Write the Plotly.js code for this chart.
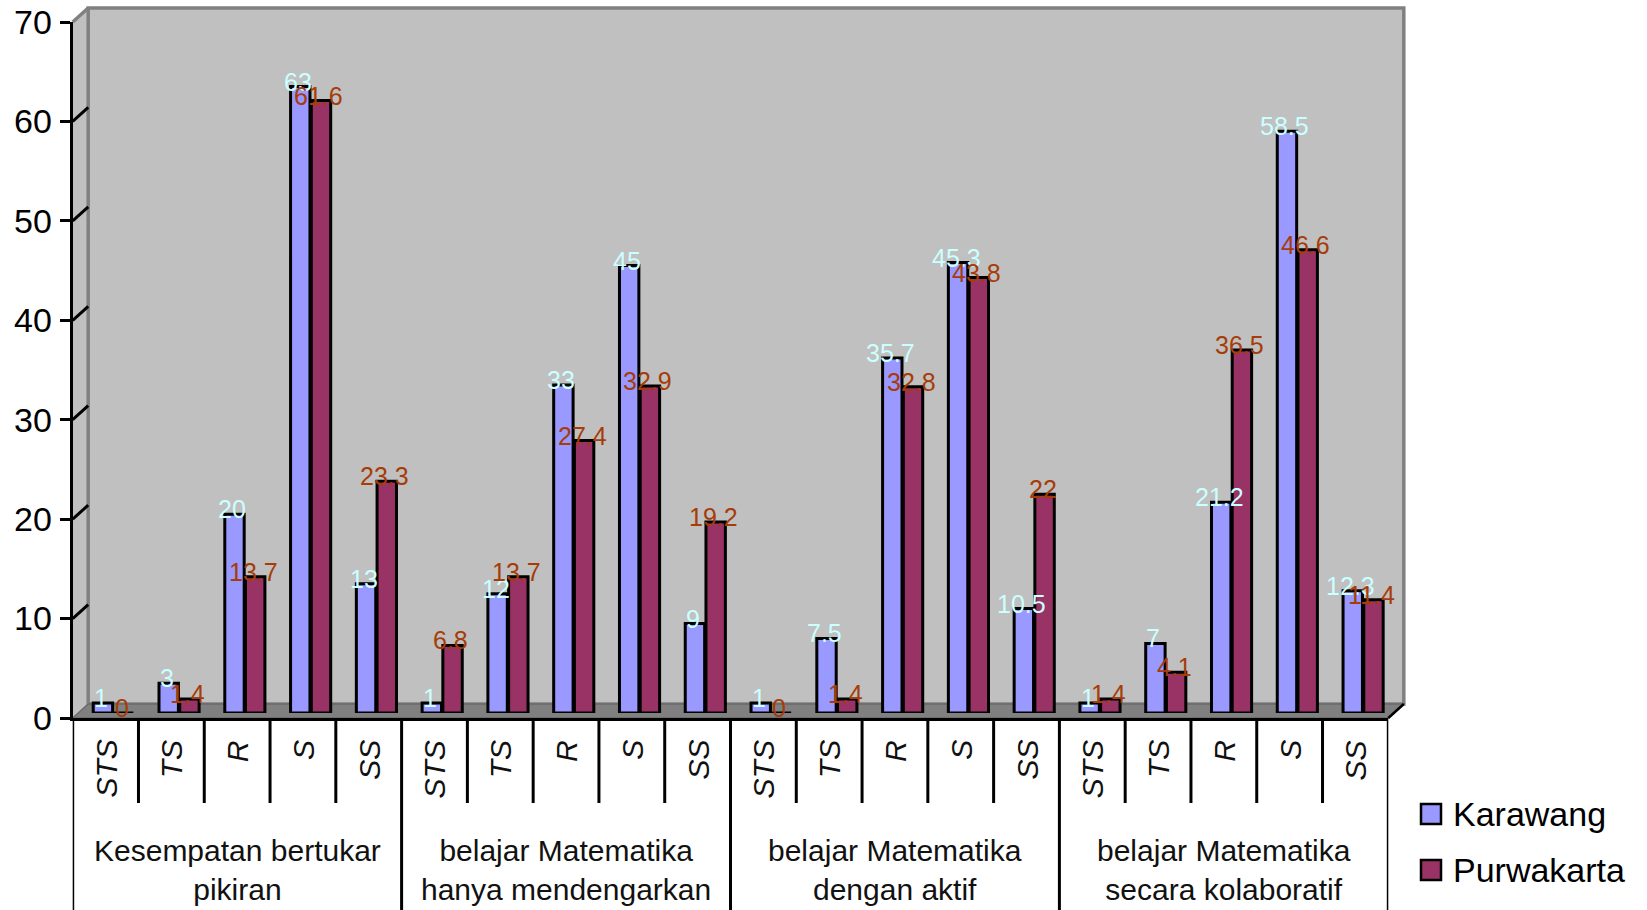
<!DOCTYPE html>
<html>
<head>
<meta charset="utf-8">
<script src="https://cdn.plot.ly/plotly-3.0.1.min.js"></script>
<style>html,body{margin:0;padding:0;background:#fff;}#chart{width:1647px;height:910px;}</style>
</head>
<body>
<div id="chart"></div>
<script>
// ---- data ----
const groups = [
  'Kesempatan bertukar<br>pikiran',
  'belajar Matematika<br>hanya mendengarkan',
  'belajar Matematika<br>dengan aktif',
  'belajar Matematika<br>secara kolaboratif'
];
const subcats = ['STS', 'TS', 'R', 'S', 'SS'];
const seriesNames = ['Karawang', 'Purwakarta'];
const karawang = [1, 3, 20, 63, 13,   1, 12, 33, 45, 9,   1, 7.5, 35.7, 45.3, 10.5,   1, 7, 21.2, 58.5, 12.3];
const purwakarta = [0, 1.4, 13.7, 61.6, 23.3,   6.8, 13.7, 27.4, 32.9, 19.2,   0, 1.4, 32.8, 43.8, 22,   1.4, 4.1, 36.5, 46.6, 11.4];
const yTicks = [0, 10, 20, 30, 40, 50, 60, 70];

// ---- geometry / style ----
const W = 1647, H = 910;
const FONT = 'Liberation Sans, Arial, sans-serif';
const FX0 = 72.7, FX1 = 1388.3, FY0 = 718, FY1 = 22; // front plane (value 0 .. 70)
const BDX = 7.7, BDY = -5;     // bar plane shift
const KDX = 15.5, KDY = -14;   // back wall shift
const colors = ['#9999FF', '#993366'];
const labelColors = ['#CCFFFF', '#A63C08'];
const barOffsets = [-0.305, 0.01];
const barWidth = 0.295;
const yMax = 70;

function px(x) { return x / W; }
function py(y) { return 1 - y / H; }
function P(x, y) { return px(x).toFixed(5) + ',' + py(y).toFixed(5); }
function yFront(v) { return FY0 - (FY0 - FY1) * v / yMax; }

const nCat = groups.length * subcats.length;
const xIdx = [];
const subLabels = [];
groups.forEach((g, gi) => subcats.forEach((s, si) => { xIdx.push(gi * subcats.length + si); subLabels.push(s); }));
const xRange = [-0.5, nCat - 0.5];

const seriesVals = [karawang, purwakarta];
const traces = seriesVals.map((vals, k) => ({
  type: 'bar', x: xIdx, y: vals, xaxis: 'x3', yaxis: 'y3',
  name: seriesNames[k], offset: barOffsets[k], width: barWidth,
  marker: { color: colors[k], line: { color: '#000', width: 3 } },
  showlegend: false, hoverinfo: 'skip'
}));

const shapes = [];
// side wall
shapes.push({ type: 'path', xref: 'paper', yref: 'paper', layer: 'below',
  path: 'M' + P(FX0, FY1) + 'L' + P(FX0 + KDX, FY1 + KDY) + 'L' + P(FX0 + KDX, FY0 + KDY) + 'L' + P(FX0, FY0) + 'Z',
  fillcolor: '#C0C0C0', line: { width: 0 } });
// back wall
shapes.push({ type: 'rect', xref: 'paper', yref: 'paper', layer: 'below',
  x0: px(FX0 + KDX), x1: px(FX1 + KDX), y0: py(FY0 + KDY), y1: py(FY1 + KDY),
  fillcolor: '#C0C0C0', line: { color: '#808080', width: 3.5 } });
// floor
shapes.push({ type: 'path', xref: 'paper', yref: 'paper', layer: 'below',
  path: 'M' + P(FX0, FY0) + 'L' + P(FX0 + KDX, FY0 + KDY) + 'L' + P(FX1 + KDX, FY0 + KDY) + 'L' + P(FX1, FY0) + 'Z',
  fillcolor: '#808080', line: { color: '#6a6a6a', width: 1.5 } });
// side wall top edge (grey)
shapes.push({ type: 'line', xref: 'paper', yref: 'paper', layer: 'below',
  x0: px(FX0), y0: py(FY1), x1: px(FX0 + KDX), y1: py(FY1 + KDY), line: { color: '#808080', width: 3.5 } });
// tick connectors on side wall
yTicks.forEach(v => {
  if (v === 0 || v === yMax) return;
  shapes.push({ type: 'line', xref: 'paper', yref: 'paper', layer: 'below',
    x0: px(FX0), y0: py(yFront(v)), x1: px(FX0 + KDX), y1: py(yFront(v) + KDY), line: { color: '#000', width: 3 } });
});
// right floor edge
shapes.push({ type: 'line', xref: 'paper', yref: 'paper',
  x0: px(FX1), y0: py(FY0), x1: px(FX1 + KDX), y1: py(FY0 + KDY), line: { color: '#000', width: 2.5 } });
// category table dividers
for (let b = 0; b <= nCat; b++) {
  const isGroup = b % subcats.length === 0;
  shapes.push({ type: 'line', xref: 'x2', yref: 'paper',
    x0: b - 0.5, x1: b - 0.5, y0: py(FY0), y1: isGroup ? 0 : py(803),
    line: { color: '#000', width: 3 } });
}
// legend squares
const legY = [814, 870];
seriesNames.forEach((n, k) => {
  shapes.push({ type: 'rect', xref: 'paper', yref: 'paper',
    x0: px(1421), x1: px(1441), y0: py(legY[k] + 10), y1: py(legY[k] - 10),
    fillcolor: colors[k], line: { color: '#000', width: 2.5 } });
});

const annotations = [];
// value labels
seriesVals.forEach((vals, k) => {
  vals.forEach((v, i) => {
    annotations.push({ xref: 'x3', yref: 'y3', x: xIdx[i] + barOffsets[k] + barWidth / 2, y: v,
      text: String(v), showarrow: false, xanchor: 'center', yanchor: 'middle', yshift: 5, xshift: -2,
      font: { family: FONT, size: 25, color: labelColors[k] } });
  });
});
// sub-category labels
subLabels.forEach((s, i) => {
  annotations.push({ xref: 'x2', yref: 'paper', x: xIdx[i], y: py(738),
    text: '<i>' + s + '</i>', textangle: -90, showarrow: false, xanchor: 'center', yanchor: 'top',
    font: { family: FONT, size: 30, color: '#111' } });
});
// group labels
groups.forEach((g, gi) => {
  annotations.push({ xref: 'x2', yref: 'paper', x: gi * subcats.length + (subcats.length - 1) / 2, y: py(870),
    text: g, showarrow: false, xanchor: 'center', yanchor: 'middle',
    font: { family: FONT, size: 30, color: '#111' } });
});
// legend text
seriesNames.forEach((n, k) => {
  annotations.push({ xref: 'paper', yref: 'paper', x: px(1451), y: py(legY[k]),
    text: n, showarrow: false, xanchor: 'left', yanchor: 'middle',
    font: { family: FONT, size: 34, color: '#000' } });
});

const hidden = { showgrid: false, zeroline: false, showline: false, ticks: '', showticklabels: false, fixedrange: true };

const layout = {
  width: W, height: H, autosize: false,
  margin: { l: 0, r: 0, t: 0, b: 0, pad: 0 },
  paper_bgcolor: '#fff', plot_bgcolor: 'rgba(0,0,0,0)',
  font: { family: FONT, color: '#000' },
  showlegend: false, barmode: 'overlay',
  // back wall plane (gridlines)
  xaxis: Object.assign({}, hidden, { domain: [px(FX0 + KDX), px(FX1 + KDX)], range: xRange, anchor: 'y' }),
  yaxis: { domain: [py(FY0 + KDY), py(FY1 + KDY)], range: [0, yMax], anchor: 'x',
    tickmode: 'array', tickvals: yTicks.filter(v => v > 0 && v < yMax),
    showgrid: true, gridcolor: '#000', gridwidth: 3,
    showticklabels: false, ticks: '', zeroline: false, showline: false, fixedrange: true },
  // front plane (axes)
  xaxis2: Object.assign({}, hidden, { domain: [px(FX0), px(FX1)], range: xRange, anchor: 'y2',
    showline: true, linecolor: '#000', linewidth: 3 }),
  yaxis2: { domain: [py(FY0), py(FY1)], range: [0, yMax], anchor: 'x2',
    tickmode: 'array', tickvals: yTicks, ticks: 'outside', ticklen: 10, tickwidth: 3, tickcolor: '#000',
    showline: true, linecolor: '#000', linewidth: 3, showgrid: false, zeroline: false,
    tickfont: { family: FONT, size: 34, color: '#000' }, ticklabelstandoff: 1, fixedrange: true },
  // bar plane
  xaxis3: Object.assign({}, hidden, { domain: [px(FX0 + BDX), px(FX1 + BDX)], range: xRange, anchor: 'y3' }),
  yaxis3: Object.assign({}, hidden, { domain: [py(FY0 + BDY), py(FY1 + BDY)], range: [0, yMax], anchor: 'x3' }),
  shapes: shapes,
  annotations: annotations
};

Plotly.newPlot('chart', traces, layout, { staticPlot: true, displayModeBar: false });
</script>
</body>
</html>
